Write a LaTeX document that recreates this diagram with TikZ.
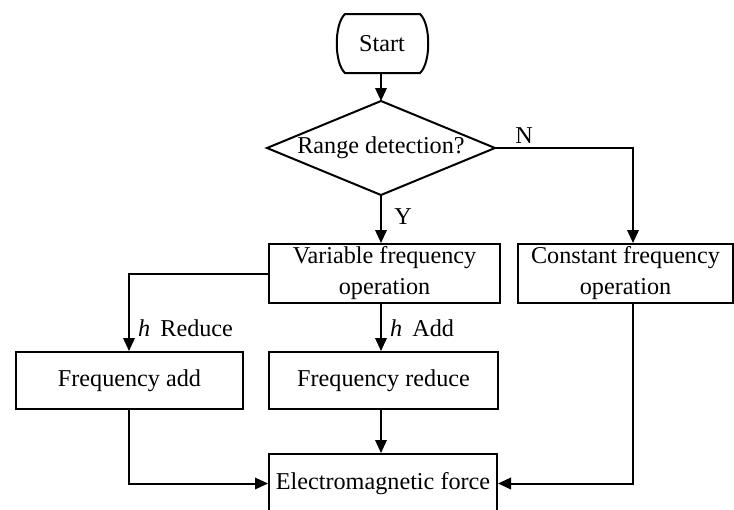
\documentclass[tikz,border=0pt]{standalone}
\usepackage{fontspec}
\setmainfont{Liberation Serif}
\usetikzlibrary{arrows.meta}
\begin{document}
\begin{tikzpicture}[x=1pt,y=-1pt,
  every node/.style={font=\fontsize{24.2}{31}\selectfont, inner sep=0pt},
  outline/.style={draw, line width=2pt, line join=miter},
  flow/.style={draw, line width=2pt, -{Triangle[length=13pt,width=11.5pt]}},
  procbox/.style={draw, line width=2pt, rectangle, align=center},
  lbl/.style={anchor=west}
]
\useasboundingbox (0,0) rectangle (734,509);

% start terminal
\node (start) [minimum width=94pt, minimum height=59pt] at (382,43.5) {Start};
\draw[outline] (345,14) -- (420,14)
  .. controls (431,24) and (431,63) .. (420,73) -- (345,73)
  .. controls (334,63) and (334,24) .. (345,14) -- cycle;

% decision
\node (dia) at (381,148) {Range detection?};
\coordinate (dia-n) at (381,101);
\coordinate (dia-s) at (381,195);
\coordinate (dia-e) at (495,148);
\coordinate (dia-w) at (267,148);
\draw[outline] (dia-n) -- (dia-e) -- (dia-s) -- (dia-w) -- cycle;

% process boxes
\node (var) [procbox, minimum width=231pt, minimum height=59pt] at (384.5,273.5)
  {Variable frequency\\operation};
\node (const) [procbox, minimum width=215pt, minimum height=59pt] at (625.5,273.5)
  {Constant frequency\\operation};
\node (fadd) [procbox, minimum width=227pt, minimum height=57pt] at (129.5,380.5)
  {Frequency add};
\node (fred) [procbox, minimum width=229pt, minimum height=57pt] at (383.5,380.5)
  {Frequency reduce};
\node (emf) [procbox, minimum width=228pt, minimum height=59pt] at (383,483.5)
  {Electromagnetic force};

% routing points
\coordinate (nturn) at (633,148);
\coordinate (cdown) at (633,483.5);
\coordinate (lturn) at (129,273.5);
\coordinate (adown) at (129,483.5);
\coordinate (mid) at (381,0);

% connectors
\draw[flow] (dia-n |- start.south) -- (dia-n);
\draw[flow] (dia-s) -- (dia-s |- var.north);
\draw[flow] (dia-e) -- (nturn) -- (nturn |- const.north);
\draw[flow] (var.west) -- (lturn) -- (lturn |- fadd.north);
\draw[flow] (mid |- var.south) -- (mid |- fred.north);
\draw[flow] (mid |- fred.south) -- (mid |- emf.north);
\draw[flow] (adown |- fadd.south) -- (adown) -- (emf.west);
\draw[flow] (cdown |- const.south) -- (cdown) -- (emf.east);

% branch labels
\node (lN) at (524,136) {N};
\node (lY) at (403,217) {Y};
\node (lred) [lbl] at (138,328) {\textit{h}\, Reduce};
\node (ladd) [lbl] at (390,328) {\textit{h}\, Add};
\end{tikzpicture}
\end{document}
